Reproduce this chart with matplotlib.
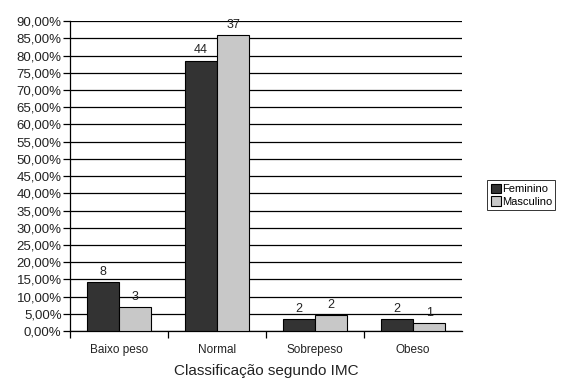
import numpy as np
import matplotlib.pyplot as plt
from matplotlib.ticker import FixedLocator

plt.rcParams['font.family'] = ['Liberation Sans', 'DejaVu Sans']

categorias = ['Baixo peso', 'Normal', 'Sobrepeso', 'Obeso']
feminino_pct = [14.29, 78.57, 3.57, 3.57]
masculino_pct = [6.98, 86.05, 4.65, 2.33]
feminino_n = [8, 44, 2, 2]
masculino_n = [3, 37, 2, 1]

fig = plt.figure(figsize=(5.64, 3.85), dpi=100)
ax = fig.add_axes([0.124, 0.140, 0.695, 0.805])

x = np.arange(len(categorias))
w = 0.33
b1 = ax.bar(x - w / 2, feminino_pct, w, color='#333333', edgecolor='black', linewidth=0.8, label='Feminino', zorder=3)
b2 = ax.bar(x + w / 2, masculino_pct, w, color='#c8c8c8', edgecolor='black', linewidth=0.8, label='Masculino', zorder=3)

for bars, nums in ((b1, feminino_n), (b2, masculino_n)):
    for r, n in zip(bars, nums):
        ax.text(r.get_x() + r.get_width() / 2, r.get_height() + 1.2, str(n),
                ha='center', va='bottom', fontsize=9, color='#222222')

ax.set_xlim(-0.5, len(categorias) - 0.5)
ax.set_ylim(0, 90)
ax.set_yticks(np.arange(0, 91, 5))
ax.set_yticklabels([f'{v:.2f}%'.replace('.', ',') for v in np.arange(0, 91, 5)], fontsize=9.5, color='#222222')
ax.yaxis.grid(True, color='black', linewidth=0.9, zorder=0)
ax.set_axisbelow(True)

ax.set_xticks(x)
ax.set_xticklabels(categorias, fontsize=8.5, color='#222222')
ax.tick_params(axis='x', length=0, pad=9)
ax.xaxis.set_minor_locator(FixedLocator(np.arange(-0.5, len(categorias) - 0.5, 1)))
ax.tick_params(axis='x', which='minor', length=5, width=0.9, direction='out')
ax.tick_params(axis='y', length=5, width=0.9, direction='out', pad=1)
ax.set_xlabel('Classificação segundo IMC', fontsize=11, labelpad=6, color='#222222')

for s in ('top', 'right'):
    ax.spines[s].set_visible(False)
ax.spines['left'].set_linewidth(0.9)
ax.spines['bottom'].set_linewidth(0.9)

leg = fig.legend(loc='upper left', bbox_to_anchor=(0.864, 0.532), fontsize=8,
                 frameon=True, fancybox=False, edgecolor='black', handlelength=0.9,
                 handleheight=1.0, handletextpad=0.1, borderpad=0.3, labelspacing=0.15,
                 borderaxespad=0)
leg.get_frame().set_linewidth(0.7)

fig.savefig('out.png', dpi=100)
